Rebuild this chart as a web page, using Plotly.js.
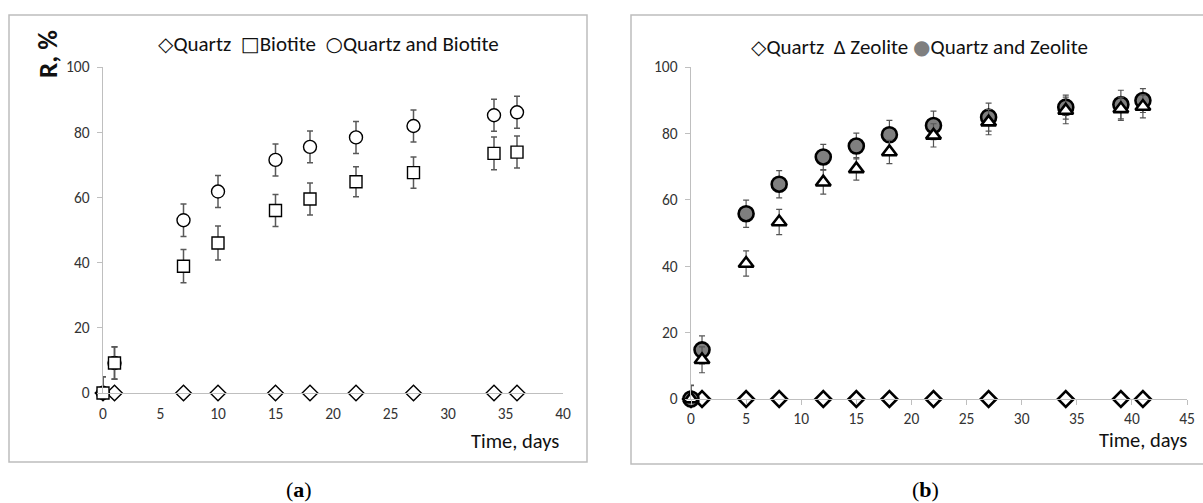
<!DOCTYPE html>
<html>
<head>
<meta charset="utf-8">
<script src="https://cdn.plot.ly/plotly-3.0.1.min.js"></script>
<style>html,body{margin:0;padding:0;background:#fff;}#chart{width:1203px;height:503px;}</style>
</head>
<body>
<div id="chart"></div>
<script>
// ---- Panel (a) data ----
const aQuartzDays = [0, 1, 7, 10, 15, 18, 22, 27, 34, 36];
const aQuartzR = [0, 0, 0, 0, 0, 0, 0, 0, 0, 0];
const aBiotiteDays = [0, 1, 7, 10, 15, 18, 22, 27, 34, 36];
const aBiotiteR = [0, 9.2, 38.9, 46.0, 56.0, 59.5, 64.8, 67.6, 73.5, 73.9];
const aBiotiteErr = [5, 4.9, 5.1, 5.2, 4.9, 4.9, 4.6, 4.8, 5.0, 4.9];
const aMixDays = [0, 1, 7, 10, 15, 18, 22, 27, 34, 36];
const aMixR = [0, 9.2, 53.0, 61.8, 71.5, 75.5, 78.4, 81.9, 85.2, 86.1];
const aMixErr = [5, 5, 5.0, 4.9, 4.9, 4.9, 4.9, 4.9, 4.9, 4.9];

// ---- Panel (b) data ----
const bQuartzDays = [0, 1, 5, 8, 12, 15, 18, 22, 27, 34, 39, 41];
const bQuartzR = [0, 0, 0, 0, 0, 0, 0, 0, 0, 0, 0, 0];
const bZeoliteDays = [0, 1, 5, 8, 12, 15, 18, 22, 27, 34, 39, 41];
const bZeoliteR = [0, 11.8, 40.8, 53.3, 65.3, 69.3, 74.4, 79.4, 83.4, 86.9, 87.4, 88.1];
const bZeoliteErr = [4, 3.9, 3.8, 3.8, 3.6, 3.4, 3.5, 3.5, 3.8, 4.0, 3.5, 3.4];
const bMixDays = [0, 1, 5, 8, 12, 15, 18, 22, 27, 34, 39, 41];
const bMixR = [0, 14.8, 55.8, 64.7, 72.9, 76.2, 79.6, 82.4, 84.9, 87.9, 88.7, 89.9];
const bMixErr = [4.2, 4.2, 4.1, 4.1, 3.8, 3.9, 4.3, 4.3, 4.2, 3.6, 4.3, 3.6];

const xTicksA = [0, 5, 10, 15, 20, 25, 30, 35, 40];
const xTicksB = [0, 5, 10, 15, 20, 25, 30, 35, 40, 45];
const yTicks = [0, 20, 40, 60, 80, 100];

const W = 1203, H = 503;
const px = v => v / W;
const py = v => 1 - v / H;

const FONT = 'Carlito, Calibri, Lato, sans-serif';
const SYM = 'font-family:DejaVu Sans;font-size:20px';

function errBar(arr, color, thick, w) {
  return {type: 'data', array: arr, visible: true, color: color, thickness: thick, width: w};
}

const traces = [
  // panel a
  {x: aQuartzDays, y: aQuartzR, xaxis: 'x', yaxis: 'y', mode: 'markers', type: 'scatter', cliponaxis: false,
   marker: {symbol: 'diamond', size: 12, color: '#ffffff', line: {color: '#000', width: 1.4}}},
  {x: aMixDays, y: aMixR, xaxis: 'x', yaxis: 'y', mode: 'markers', type: 'scatter', cliponaxis: false,
   error_y: errBar(aMixErr, '#595959', 1.5, 3),
   marker: {symbol: 'circle', size: 13, color: '#ffffff', line: {color: '#000', width: 1.4}}},
  {x: aBiotiteDays, y: aBiotiteR, xaxis: 'x', yaxis: 'y', mode: 'markers', type: 'scatter', cliponaxis: false,
   error_y: errBar(aBiotiteErr, '#595959', 1.5, 3),
   marker: {symbol: 'square', size: 12, color: '#ffffff', line: {color: '#000', width: 1.4}}},
  // panel b
  {x: bQuartzDays, y: bQuartzR, xaxis: 'x2', yaxis: 'y2', mode: 'markers', type: 'scatter', cliponaxis: false,
   marker: {symbol: 'diamond', size: 12, color: '#ffffff', line: {color: '#000', width: 2.6}}},
  {x: bMixDays, y: bMixR, xaxis: 'x2', yaxis: 'y2', mode: 'markers', type: 'scatter', cliponaxis: false,
   error_y: errBar(bMixErr, '#555', 1.2, 3),
   marker: {symbol: 'circle', size: 15, color: '#7f7f7f', line: {color: '#000', width: 2.6}}},
  {x: bZeoliteDays, y: bZeoliteR, xaxis: 'x2', yaxis: 'y2', mode: 'markers', type: 'scatter', cliponaxis: false,
   error_y: errBar(bZeoliteErr, '#555', 1.2, 3),
   marker: {symbol: 'triangle-up', size: 13, color: '#ffffff', line: {color: '#000', width: 2.6}}}
];

const axisCommon = {
  showgrid: false, zeroline: false, showline: true, linecolor: '#bfbfbf', linewidth: 1.3,
  tickfont: {family: FONT, size: 15.5, color: '#333'}, fixedrange: true
};

const layout = {
  width: W, height: H,
  margin: {l: 0, r: 0, t: 0, b: 0},
  paper_bgcolor: '#fff', plot_bgcolor: 'rgba(0,0,0,0)',
  showlegend: false,
  xaxis: Object.assign({}, axisCommon, {
    domain: [px(103), px(563)], range: [0, 40], anchor: 'y',
    tickmode: 'array', tickvals: xTicksA, ticktext: xTicksA.map(String),
    ticks: 'outside', ticklen: 6, tickcolor: 'rgba(0,0,0,0)'
  }),
  yaxis: Object.assign({}, axisCommon, {
    domain: [py(393), py(67)], range: [0, 100], anchor: 'x',
    tickmode: 'array', tickvals: yTicks, ticktext: yTicks.map(String),
    ticks: 'outside', ticklen: 5, tickcolor: '#bfbfbf', ticklabelstandoff: 4
  }),
  xaxis2: Object.assign({}, axisCommon, {
    domain: [px(691), px(1187)], range: [0, 45], anchor: 'y2',
    tickmode: 'array', tickvals: xTicksB, ticktext: xTicksB.map(String),
    ticks: 'outside', ticklen: 5, tickcolor: '#bfbfbf'
  }),
  yaxis2: Object.assign({}, axisCommon, {
    domain: [py(399), py(67)], range: [0, 100], anchor: 'x2',
    tickmode: 'array', tickvals: yTicks, ticktext: yTicks.map(String),
    ticks: 'outside', ticklen: 5, tickcolor: '#bfbfbf', ticklabelstandoff: 4
  }),
  shapes: [
    {type: 'rect', xref: 'paper', yref: 'paper', x0: px(9), x1: px(587), y0: py(462), y1: py(15),
     line: {color: '#bdbdbd', width: 1.5}, fillcolor: 'rgba(0,0,0,0)', layer: 'below'},
    {type: 'rect', xref: 'paper', yref: 'paper', x0: px(631), x1: px(1210), y0: py(464), y1: py(15),
     line: {color: '#bdbdbd', width: 1.5}, fillcolor: 'rgba(0,0,0,0)', layer: 'below'}
  ],
  annotations: [
    {xref: 'paper', yref: 'paper', x: px(328), y: py(44), xanchor: 'center', yanchor: 'middle', showarrow: false,
     text: '<span style="' + SYM + '">◇</span>Quartz  <span style="' + SYM + '">□</span>Biotite  <span style="' + SYM + '">○</span>Quartz and Biotite',
     font: {family: FONT, size: 21, color: '#111'}},
    {xref: 'paper', yref: 'paper', x: px(919), y: py(47), xanchor: 'center', yanchor: 'middle', showarrow: false,
     text: '<span style="' + SYM + '">◇</span>Quartz  Δ Zeolite <span style="' + SYM + ';color:#7f7f7f">●</span>Quartz and Zeolite',
     font: {family: FONT, size: 21, color: '#111'}},
    {xref: 'paper', yref: 'paper', x: px(47), y: py(54), xanchor: 'center', yanchor: 'middle', showarrow: false,
     textangle: -90, text: '<b>R, %</b>', font: {family: FONT, size: 27, color: '#111'}},
    {xref: 'paper', yref: 'paper', x: px(561), y: py(441), xanchor: 'right', yanchor: 'middle', showarrow: false,
     text: 'Time, days', font: {family: FONT, size: 20.5, color: '#111'}},
    {xref: 'paper', yref: 'paper', x: px(1189), y: py(440), xanchor: 'right', yanchor: 'middle', showarrow: false,
     text: 'Time, days', font: {family: FONT, size: 20.5, color: '#111'}},
    {xref: 'paper', yref: 'paper', x: px(299), y: py(489), xanchor: 'center', yanchor: 'middle', showarrow: false,
     text: '(<b>a</b>)', font: {family: 'Liberation Serif, DejaVu Serif, serif', size: 22, color: '#000'}},
    {xref: 'paper', yref: 'paper', x: px(925), y: py(489), xanchor: 'center', yanchor: 'middle', showarrow: false,
     text: '(<b>b</b>)', font: {family: 'Liberation Serif, DejaVu Serif, serif', size: 22, color: '#000'}}
  ]
};

Plotly.newPlot('chart', traces, layout, {staticPlot: true, displayModeBar: false});
</script>
</body>
</html>
